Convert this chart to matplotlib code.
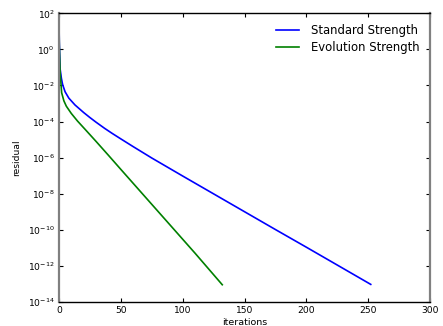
import numpy as np
import matplotlib
matplotlib.use('Agg')
import matplotlib.pyplot as plt

# iterations and residuals (log10 of the residual)
it_std = [0, 0.3, 1, 2, 3, 5, 8, 13, 20, 25, 30, 37, 43, 50, 60, 75, 100, 125, 150,
          175, 200, 225, 252]
log_std = [1.9, 0.4, -1.1, -1.6, -1.95, -2.35, -2.7, -3.08, -3.5, -3.775, -4.035, -4.38,
           -4.655, -4.96, -5.39, -6.02, -7.02, -8.01, -9.0, -9.99, -10.97, -11.96, -13.03]

it_evo = [0, 0.3, 1, 2.2, 4, 6, 10, 15, 21, 30, 40, 50, 70, 90, 110, 132]
log_evo = [1.9, 0.2, -1.3, -2.4, -2.85, -3.15, -3.55, -3.97, -4.42, -5.1, -5.87, -6.65,
           -8.2, -9.75, -11.3, -13.05]

xticks = [0, 50, 100, 150, 200, 250, 300]
yticks = [1e2, 1e0, 1e-2, 1e-4, 1e-6, 1e-8, 1e-10, 1e-12, 1e-14]

fig = plt.figure(figsize=(4.43, 3.26), dpi=100)
ax = fig.add_axes([0.133, 0.074, 0.838, 0.885])

ax.plot(it_std, 10.0 ** np.array(log_std), color='#0000ff', lw=1.2, label='Standard Strength')
ax.plot(it_evo, 10.0 ** np.array(log_evo), color='#008000', lw=1.2, label='Evolution Strength')

ax.set_yscale('log')
ax.set_xlim(0, 300)
ax.set_ylim(1e-14, 1e2)
ax.set_xticks(xticks)
ax.set_yticks(yticks)
ax.minorticks_off()
ax.tick_params(direction='in', top=True, right=True, length=3, labelsize=6.6, pad=3)
for side in ['top', 'bottom']:
    ax.spines[side].set_linewidth(1.0)
for side in ['left', 'right']:
    ax.spines[side].set_linewidth(1.6)
    ax.spines[side].set_color('#808080')

ax.set_xlabel('iterations', fontsize=6.8, labelpad=2)
ax.set_ylabel('residual', fontsize=6.6, labelpad=5)

ax.legend(loc='upper right', frameon=False, fontsize=8.4, handlelength=2.0,
          handletextpad=1.0, borderaxespad=0.5, labelspacing=0.38)

fig.savefig('out.png', dpi=100)
